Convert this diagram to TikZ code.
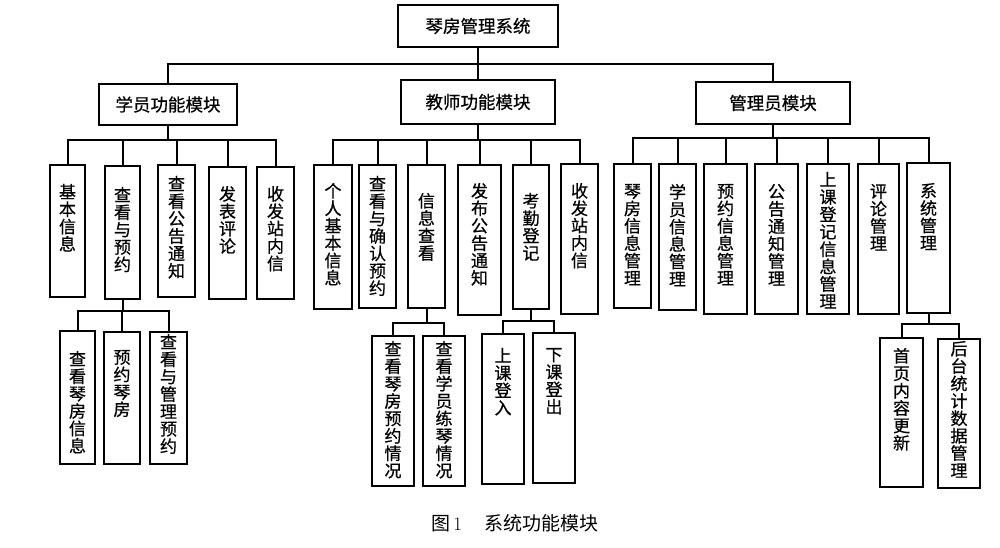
\documentclass[tikz,border=0pt]{standalone}
\usepackage{fontspec}
\newfontfamily\cjk{Noto Sans CJK SC}
\newfontfamily\cjkb[FakeBold=0.6]{Noto Sans CJK SC}
\tikzset{
  box/.style={draw, line width=2pt, inner sep=0pt, font=\cjkb\fontsize{17}{17.4}\selectfont},
  cell/.style={box, anchor=north west, inner sep=0pt},
  modbox/.style={box, anchor=north west, inner sep=0pt, font=\cjkb\fontsize{17.5}{18}\selectfont},
  conn/.style={line width=2pt, line cap=rect}
}
% name, x, y, width, height, top pad, text
\newcommand\cell[7]{\node[cell,minimum width=#4pt,minimum height=#5pt] (#1) at (#2,#3) {\parbox[c][#5pt][t]{18pt}{\centering\vspace*{#6pt}#7}};}
\begin{document}
\begin{tikzpicture}[x=1pt,y=-1pt]
\useasboundingbox (0,0) rectangle (1000,548);
% top level
\node[modbox,minimum width=160pt,minimum height=42pt] (root) at (397,4) {琴房管理系统};
\node[modbox,minimum width=138pt,minimum height=41pt] (m1) at (98,83) {学员功能模块};
\node[modbox,minimum width=154pt,minimum height=44pt] (m2) at (400,79) {教师功能模块};
\node[modbox,minimum width=154pt,minimum height=42pt] (m3) at (695,81) {管理员模块};
\path (root.south) ++(0,16) coordinate (b0);
\draw[conn] (root.south) -- (m2.north);
\draw[conn] (m1.north) |- (b0) -| (m3.north);

% student children
\cell{s1}{49}{164}{35}{132}{19}{基\\本\\信\\息}
\cell{s2}{104}{165}{35}{133}{21}{查\\看\\与\\预\\约}
\cell{s3}{157}{164}{37}{132}{11}{查\\看\\公\\告\\通\\知}
\cell{s4}{208}{166}{37}{132}{19}{发\\表\\评\\论}
\cell{s5}{256}{166}{37}{132}{19}{收\\发\\站\\内\\信}
\path (m1.south) ++(0,14) coordinate (b1);
\draw[conn] (m1.south) -- (b1);
\draw[conn] (s1.north) |- (b1) -| (s5.north);
\foreach \c in {s2,s3,s4} \draw[conn] (\c.north) -- (\c.north |- b1);

% student sub
\cell{s21}{59}{330}{35}{133}{20}{查\\看\\琴\\房\\信\\息}
\cell{s22}{103}{331}{36}{132}{18}{预\\约\\琴\\房}
\cell{s23}{149}{331}{37}{132}{2}{查\\看\\与\\管\\理\\预\\约}
\path (s2.south) ++(0,11) coordinate (b2);
\draw[conn] (s2.south) -- (b2);
\draw[conn] (s21.north) |- (b2) -| (s23.north);
\draw[conn] (s22.north) -- (s22.north |- b2);

% teacher children
\cell{t1}{313}{164}{38}{144}{18}{个\\人\\基\\本\\信\\息}
\cell{t2}{358}{164}{37}{143}{11}{查\\看\\与\\确\\认\\预\\约}
\cell{t3}{407}{164}{37}{143}{28}{信\\息\\查\\看}
\cell{t4}{457}{164}{43}{150}{18}{发\\布\\公\\告\\通\\知}
\cell{t5}{512}{164}{36}{144}{28}{考\\勤\\登\\记}
\cell{t6}{560}{163}{37}{150}{19}{收\\发\\站\\内\\信}
\path (m2.south) ++(0,15) coordinate (b3);
\draw[conn] (m2.south) -- (b3);
\draw[conn] (t1.north) |- (b3) -| (t6.north);
\foreach \c in {t2,t3,t4,t5} \draw[conn] (\c.north) -- (\c.north |- b3);

% teacher sub: info
\cell{t31}{371}{335}{42}{150}{5}{查\\看\\琴\\房\\预\\约\\情\\况}
\cell{t32}{422}{335}{42}{150}{5}{查\\看\\学\\员\\练\\琴\\情\\况}
\path (t3.south) ++(0,14) coordinate (b4);
\draw[conn] (t3.south) -- (b4);
\draw[conn] (t31.north) |- (b4) -| (t32.north);

% teacher sub: attendance
\cell{t51}{481}{333}{42}{150}{14}{上\\课\\登\\入}
\cell{t52}{532}{332}{42}{150}{15}{下\\课\\登\\出}
\path (t5.south) ++(0,11) coordinate (b5);
\draw[conn] (t5.south) -- (b5);
\draw[conn] (t51.north) |- (b5) -| (t52.north);

% admin children
\cell{a1}{613}{163}{37}{144}{20}{琴\\房\\信\\息\\管\\理}
\cell{a2}{658}{163}{37}{146}{20}{学\\员\\信\\息\\管\\理}
\cell{a3}{703}{163}{43}{150}{20}{预\\约\\信\\息\\管\\理}
\cell{a4}{754}{163}{43}{150}{20}{公\\告\\通\\知\\管\\理}
\cell{a5}{806}{163}{42}{150}{8}{上\\课\\登\\记\\信\\息\\管\\理}
\cell{a6}{857}{163}{41}{150}{20}{评\\论\\管\\理}
\cell{a7}{906}{162}{43}{150}{20}{系\\统\\管\\理}
\path (m3.south) ++(0,13) coordinate (b6);
\draw[conn] (m3.south) -- (b6);
\draw[conn] (a1.north) |- (b6) -| (a7.north);
\foreach \c in {a2,a3,a4,a5,a6} \draw[conn] (\c.north) -- (\c.north |- b6);

% admin sub
\cell{a71}{879}{337}{43}{149}{10}{首\\页\\内\\容\\更\\新}
\cell{a72}{937}{338}{42}{149}{2}{后\\台\\统\\计\\数\\据\\管\\理}
\path (a7.south) ++(0,10) coordinate (b7);
\draw[conn] (a7.south) -- (b7);
\draw[conn] (a71.north) |- (b7) -| (a72.north);

% caption
\node[font=\fontsize{19}{20}\selectfont] (cap) at (515,523) {{\cjk 图}\,{\rmfamily 1}\hspace{1.2em}{\cjk 系统功能模块}};
\end{tikzpicture}
\end{document}
